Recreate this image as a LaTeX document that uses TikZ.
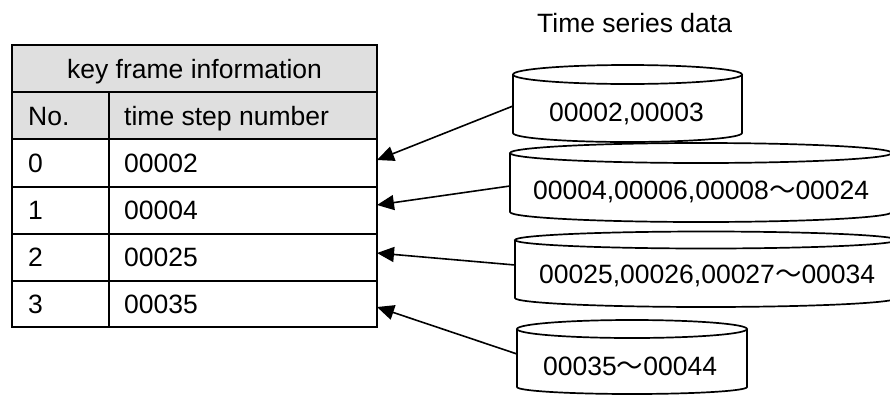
\documentclass[tikz,border=0pt]{standalone}
\usepackage{fontspec}
\setmainfont{Liberation Sans}
\newfontfamily\cjk{Noto Sans CJK JP}
\usetikzlibrary{arrows.meta}
% full-width wave dash used in the ranges
\newcommand\wave{{\cjk ～}}
% drum (cylinder) outline: left x, right x, top-centre y, bottom y, top ry, bottom ry
\newcommand\drum[6]{%
  \pgfmathsetmacro\dcx{(#1+#2)/2}%
  \pgfmathsetmacro\drx{(#2-#1)/2}%
  \draw[drumline] (#1,#3) -- (#1,#4)
    arc[start angle=180, end angle=0, x radius=\drx, y radius=#6] -- (#2,#3);
  \draw[drumline] (\dcx,#3) ellipse[x radius=\drx, y radius=#5];
}
\begin{document}
\begin{tikzpicture}[x=1pt, y=-1pt,
  rule/.style={line width=1.8pt},
  drumline/.style={line width=1.7pt, fill=white},
  txt/.style={anchor=base west, inner sep=0pt, font=\fontsize{26.5}{30}\selectfont},
  link/.style={line width=1.6pt, -{Triangle[length=17pt, width=15pt]}}]
\useasboundingbox (0,0) rectangle (890,394);

% ---- key frame table ----
\fill[gray!25] (12,45) rectangle (377,139);
\draw[rule] (12,45) rectangle (377,327);
\foreach \y in {92,139,187,234,281}
  \draw[rule] (12,\y) -- (377,\y);
\draw[rule] (109,92) -- (109,327);

\node[txt, anchor=base] (head) at (194.5,78) {key frame information};
\node[txt] (hno)  at (28,125)  {No.};
\node[txt] (hts)  at (124,125) {time step number};
\node[txt] (n0) at (28,172) {0};  \node[txt] (v0) at (124,172) {00002};
\node[txt] (n1) at (28,219) {1};  \node[txt] (v1) at (124,219) {00004};
\node[txt] (n2) at (28,266) {2};  \node[txt] (v2) at (124,266) {00025};
\node[txt] (n3) at (28,313) {3};  \node[txt] (v3) at (124,313) {00035};

% ---- time series drums ----
\node[txt] (title) at (537,32) {Time series data};

\drum{513}{742}{74.5}{133}{9.5}{9}
\drum{510}{892}{153}{212}{10}{10}
\drum{515}{897}{240}{298}{8.5}{9}
\drum{517}{747}{329}{387}{9}{7}

\node[txt] (d1) at (549,121) {00002,00003};
\node[txt] (d2) at (533,199) {00004,00006,00008\wave00024};
\node[txt] (d3) at (539,283) {00025,00026,00027\wave00034};
\node[txt] (d4) at (543,375) {00035\wave00044};

% ---- links from drums to table rows ----
\coordinate (s1) at (513,106);  \coordinate (k0) at (377,160);
\coordinate (s2) at (510,186);  \coordinate (k1) at (377,205);
\coordinate (s3) at (515,265);  \coordinate (k2) at (377,253);
\coordinate (s4) at (517,354);  \coordinate (k3) at (377,307);
\draw[link] (s1) -- (k0);
\draw[link] (s2) -- (k1);
\draw[link] (s3) -- (k2);
\draw[link] (s4) -- (k3);
\end{tikzpicture}
\end{document}
